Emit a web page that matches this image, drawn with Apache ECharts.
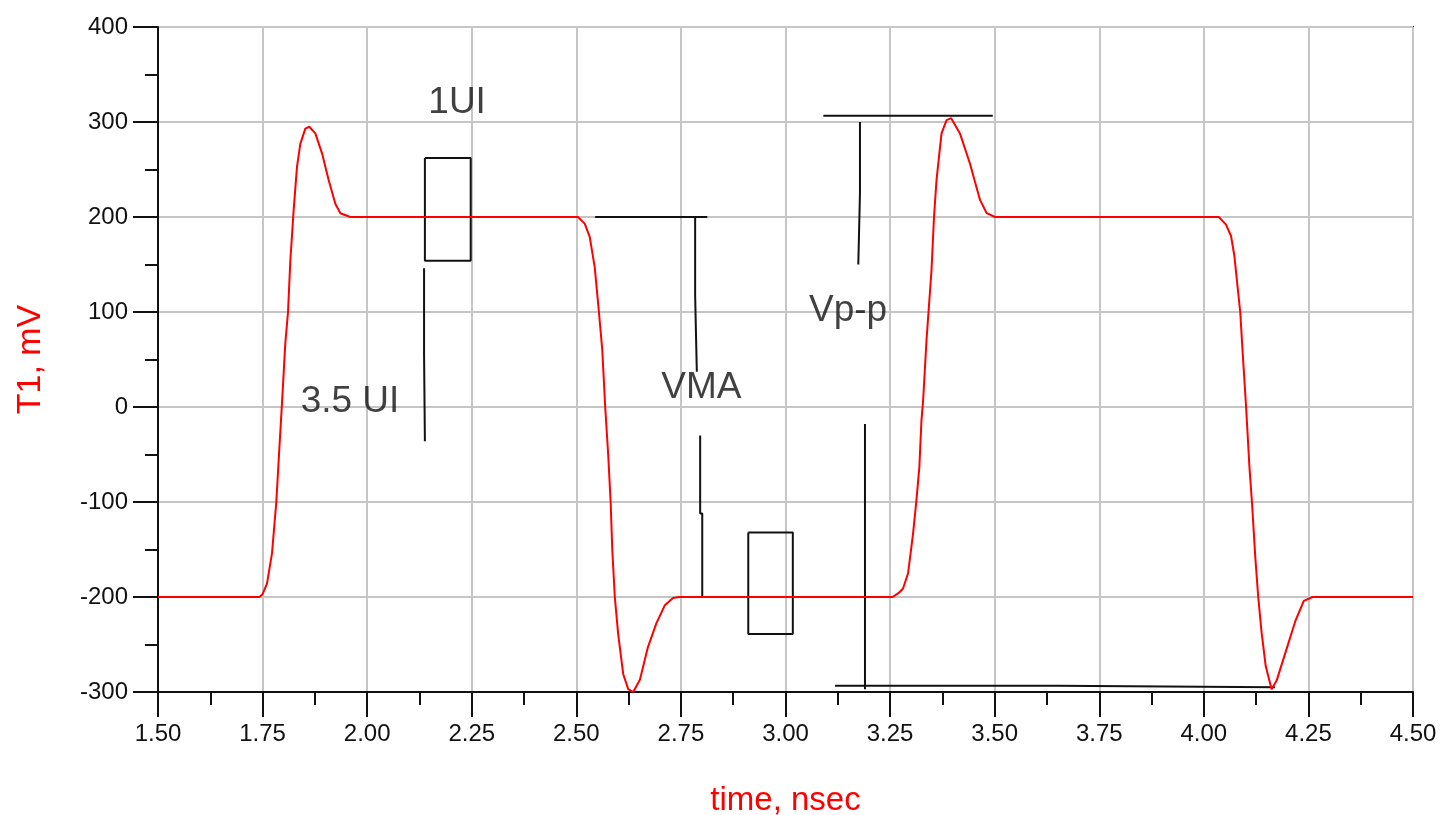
<!DOCTYPE html>
<html>
<head>
<meta charset="utf-8">
<script src="https://cdn.jsdelivr.net/npm/echarts@6/dist/echarts.min.js"></script>
<style>
  html, body { margin: 0; padding: 0; background: #fff; }
  #chart { width: 1441px; height: 815px; }
</style>
</head>
<body>
<div id="chart"></div>
<script>
// waveform T1 (time in nsec, value in mV)
var timeNs = [
  1.500, 1.742, 1.750, 1.7605, 1.7725, 1.7828, 1.7907, 1.7964, 1.8043, 1.8108,
  1.8163, 1.8242, 1.8323, 1.8402, 1.8522, 1.8617, 1.8761, 1.8921, 1.9079, 1.9239,
  1.9359, 1.9598, 2.504, 2.520, 2.532, 2.544, 2.554, 2.562, 2.569, 2.576,
  2.582, 2.586, 2.592, 2.600, 2.612, 2.624, 2.636, 2.652, 2.671, 2.691,
  2.711, 2.731, 2.745, 3.256, 3.270, 3.281, 3.293, 3.305, 3.313, 3.320,
  3.325, 3.329, 3.337, 3.349, 3.355, 3.361, 3.373, 3.385, 3.396, 3.417,
  3.441, 3.465, 3.481, 3.501, 4.036, 4.053, 4.065, 4.073, 4.081, 4.087,
  4.093, 4.101, 4.109, 4.115, 4.123, 4.130, 4.138, 4.148, 4.162, 4.174,
  4.199, 4.219, 4.239, 4.260, 4.500
];
var t1mV = [
  -200, -200, -197, -186, -154, -100, -39, 4, 67, 100,
  154, 207, 253, 277, 293, 295, 288, 267, 239, 214,
  204, 200, 200, 193, 179, 147, 100, 60, 0, -49,
  -100, -151, -200, -239, -281, -297, -300, -287, -253, -228,
  -209, -201, -200, -200, -196, -191, -175, -133, -98, -63,
  -14, 7, 70, 144, 200, 239, 288, 302, 304, 288,
  256, 218, 204, 200, 200, 192, 180, 159, 125, 100,
  56, 0, -63, -100, -158, -200, -237, -273, -297, -288,
  -253, -225, -204, -200, -200
];

// hand-drawn annotation strokes, in (nsec, mV)
var box1UI = [[2.138, 262], [2.2475, 262], [2.2475, 154], [2.138, 154], [2.138, 262]];
var stroke35UI = [[2.136, 146], [2.136, 56], [2.138, 56], [2.138, -36]];
var vmaTop = [[2.545, 200], [2.813, 200]];
var vmaUpper = [[2.784, 200], [2.784, 118], [2.788, 118], [2.788, 37]];
var vmaLower = [[2.796, -30], [2.796, -112], [2.801, -112], [2.801, -200]];
var boxLow = [[2.911, -132], [3.0175, -132], [3.0175, -239], [2.911, -239], [2.911, -132]];
var vppTop = [[3.0905, 306.6], [3.4955, 306.6]];
var vppUpper = [[3.178, 300], [3.178, 225], [3.174, 225], [3.174, 150]];
var vppLower = [[3.190, -18], [3.190, -297]];
var vppBottom = [[3.1185, -293.4], [3.647, -293.4], [3.647, -295], [4.170, -295]];

var noteText = ['1UI', '3.5 UI', 'VMA', 'Vp-p'];
var noteX = [2.215, 1.959, 2.799, 3.1495];
var noteY = [320, 6, 20, 101];

var font = '"Liberation Sans", Arial, sans-serif';
var ink = '#111111';
var red = '#ff0000';

var trace = timeNs.map(function(t, i) { return [t, t1mV[i]]; });

function stroke(data) {
  return {
    type: 'line',
    data: data,
    symbol: 'none',
    silent: true,
    z: 3,
    lineStyle: { color: ink, width: 2 }
  };
}

var chart = echarts.init(document.getElementById('chart'), null, { renderer: 'canvas' });

chart.setOption({
  animation: false,
  backgroundColor: '#ffffff',
  grid: {
    left: 158, right: 28, top: 27, bottom: 123,
    outerBoundsMode: 'none',
    containLabel: false,
    show: true, borderColor: ink, borderWidth: 2, backgroundColor: 'transparent'
  },
  xAxis: {
    type: 'value',
    min: 1.5, max: 4.5, interval: 0.25,
    name: 'time, nsec',
    nameLocation: 'middle',
    nameGap: 92,
    nameTextStyle: { color: red, fontSize: 33, fontFamily: font },
    axisLine: { onZero: false, lineStyle: { color: ink, width: 2 } },
    axisTick: { length: 25, lineStyle: { color: ink, width: 2 } },
    minorTick: { show: true, splitNumber: 2, length: 13, lineStyle: { color: ink, width: 2 } },
    axisLabel: {
      color: ink, fontSize: 24, fontFamily: font, margin: 30,
      formatter: function(v) { return v.toFixed(2); }
    },
    splitLine: { lineStyle: { color: '#c6c6c6', width: 2 } }
  },
  yAxis: {
    type: 'value',
    min: -300, max: 400, interval: 100,
    name: 'T1, mV',
    nameLocation: 'middle',
    nameRotate: 90,
    nameGap: 110,
    nameTextStyle: { color: red, fontSize: 34, fontFamily: font },
    axisLine: { show: true, onZero: false, lineStyle: { color: ink, width: 2 } },
    axisTick: { show: true, length: 25, lineStyle: { color: ink, width: 2 } },
    minorTick: { show: true, splitNumber: 2, length: 13, lineStyle: { color: ink, width: 2 } },
    axisLabel: { color: ink, fontSize: 24, fontFamily: font, margin: 30 },
    splitLine: { lineStyle: { color: '#c6c6c6', width: 2 } }
  },
  series: [
    {
      type: 'line',
      data: trace,
      symbol: 'none',
      z: 4,
      lineStyle: { color: red, width: 2 }
    },
    stroke(box1UI), stroke(stroke35UI),
    stroke(vmaTop), stroke(vmaUpper), stroke(vmaLower),
    stroke(boxLow),
    stroke(vppTop), stroke(vppUpper), stroke(vppLower), stroke(vppBottom),
    {
      type: 'scatter',
      symbolSize: 1,
      silent: true,
      z: 5,
      itemStyle: { color: 'rgba(0,0,0,0)' },
      label: {
        show: true, position: 'inside', formatter: '{b}',
        color: ink, fontSize: 37, fontFamily: font
      },
      data: noteText.map(function(s, i) { return { name: s, value: [noteX[i], noteY[i]] }; })
    }
  ]
});
</script>
</body>
</html>
